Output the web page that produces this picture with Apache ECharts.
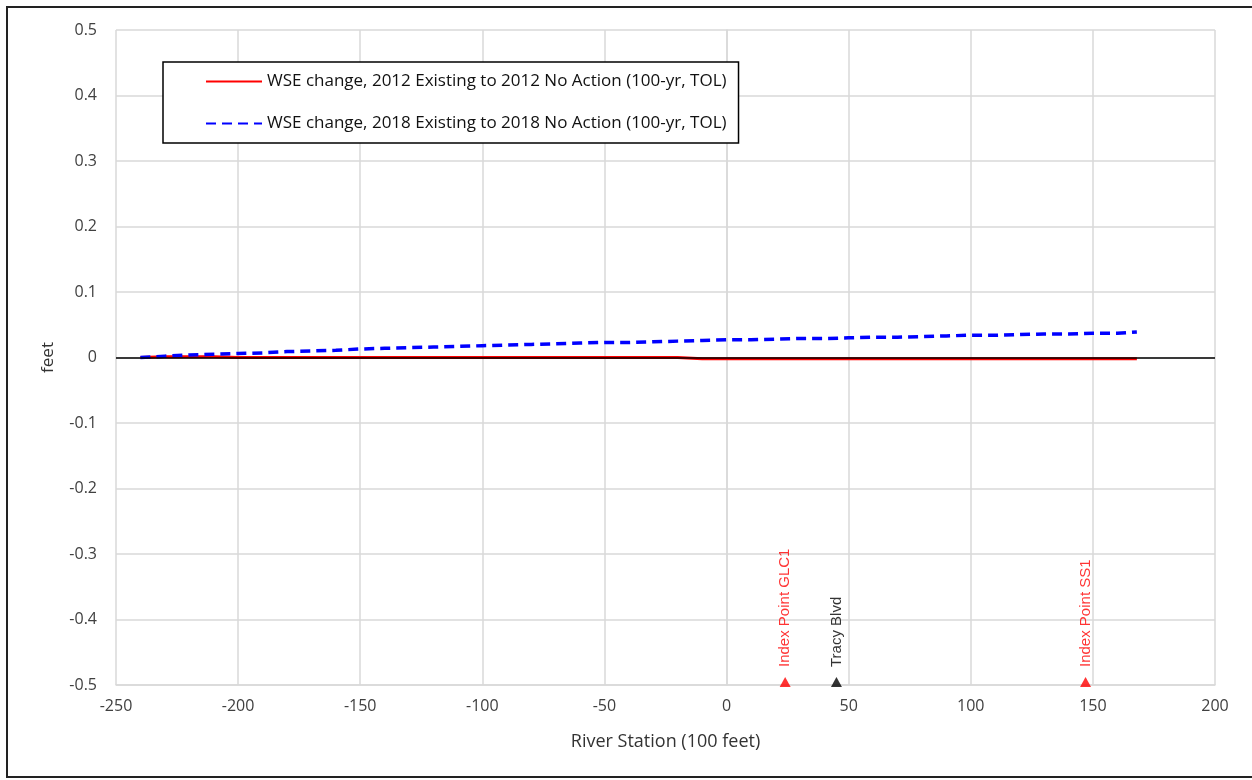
<!DOCTYPE html>
<html>
<head>
<meta charset="utf-8">
<script src="https://cdn.jsdelivr.net/npm/echarts@6/dist/echarts.min.js"></script>
<style>
  html, body { margin: 0; padding: 0; background: #fff; }
  #chart { width: 1252px; height: 780px; }
</style>
</head>
<body>
<div id="chart"></div>
<script>
// river station (100 feet)
var stations = [-240, -230, -220, -210, -200, -190, -180, -170, -160, -150,
  -140, -130, -120, -110, -100, -90, -80, -70, -60, -50,
  -40, -30, -20, -10, 0, 10, 20, 30, 40, 50,
  60, 70, 80, 90, 100, 110, 120, 130, 140, 150,
  160, 168]
// WSE change 2012 (feet)
var wse2012 = [0, 0.001, 0.001, 0.001, 0, 0, 0, 0, 0, 0,
  0, 0, 0, 0, 0, 0, 0, 0, 0, 0,
  0, 0, 0, -0.002, -0.002, -0.002, -0.002, -0.002, -0.002, -0.002,
  -0.002, -0.002, -0.002, -0.002, -0.002, -0.002, -0.002, -0.002, -0.002, -0.002,
  -0.002, -0.002]
// WSE change 2018 (feet)
var wse2018 = [0, 0.002, 0.004, 0.005, 0.006, 0.007, 0.009, 0.010, 0.011, 0.013,
  0.014, 0.015, 0.016, 0.017, 0.018, 0.019, 0.020, 0.021, 0.022, 0.023,
  0.023, 0.024, 0.025, 0.026, 0.027, 0.027, 0.028, 0.029, 0.029, 0.030,
  0.031, 0.031, 0.032, 0.033, 0.034, 0.034, 0.035, 0.036, 0.036, 0.037,
  0.037, 0.039]
// reference locations along the river
var markStations = [24, 45, 147]
var markNames = ['Index Point GLC1', 'Tracy Blvd', 'Index Point SS1']
var markColors = ['#ff0000', '#000000', '#ff0000']

var seriesNames = [
  'WSE change, 2012 Existing to 2012 No Action (100-yr, TOL)',
  'WSE change, 2018 Existing to 2018 No Action (100-yr, TOL)'
]

function pairs (xs, ys) {
  return xs.map(function (x, i) { return [x, ys[i]] })
}

var font = 'Open Sans'
var chart = echarts.init(document.getElementById('chart'))
var option = {
  backgroundColor: '#fff',
  animation: false,
  textStyle: { fontFamily: font },
  graphic: [{
    type: 'rect',
    shape: { x: 7, y: 7, width: 1260, height: 770 },
    style: { fill: 'none', stroke: '#222', lineWidth: 2 },
    silent: true
  }],
  grid: { left: 116, right: 37, top: 30, bottom: 95 },
  legend: {
    left: 163,
    top: 62,
    orient: 'vertical',
    backgroundColor: '#fff',
    borderColor: '#000',
    borderWidth: 1.5,
    borderRadius: 0,
    padding: [11, 12, 11, 42],
    itemGap: 25,
    itemWidth: 56,
    itemHeight: 20,
    itemStyle: { opacity: 0 },
    textStyle: { fontFamily: font, fontSize: 17, color: '#111' },
    data: seriesNames
  },
  xAxis: {
    type: 'value',
    min: -250,
    max: 200,
    interval: 50,
    name: 'River Station (100 feet)',
    nameLocation: 'middle',
    nameGap: 48,
    nameTextStyle: { fontSize: 18, color: '#333' },
    axisLine: { onZero: false, lineStyle: { color: '#d9d9d9', width: 1.5 } },
    axisTick: { show: false },
    axisLabel: { fontSize: 16, color: '#404040', margin: 13 },
    splitLine: { lineStyle: { color: '#d9d9d9', width: 1.5 } }
  },
  yAxis: {
    type: 'value',
    min: -0.5,
    max: 0.5,
    interval: 0.1,
    name: 'feet',
    nameLocation: 'middle',
    nameGap: 59,
    nameTextStyle: { fontSize: 17, color: '#333' },
    axisLine: { show: true, lineStyle: { color: '#d9d9d9', width: 1.5 } },
    axisTick: { show: false },
    axisLabel: {
      fontSize: 16,
      color: '#404040',
      margin: 19,
      formatter: function (v) { return Math.abs(v) < 1e-9 ? '0' : String(+v.toFixed(1)) }
    },
    splitLine: { lineStyle: { color: '#d9d9d9', width: 1.5 } }
  },
  series: [
    {
      name: 'zero',
      type: 'line',
      data: [],
      z: 1,
      markLine: {
        silent: true,
        symbol: 'none',
        label: { show: false },
        lineStyle: { color: '#000', width: 1.5, type: 'solid' },
        data: [{ yAxis: 0 }]
      }
    },
    {
      name: seriesNames[0],
      type: 'line',
      data: pairs(stations, wse2012),
      showSymbol: false,
      symbol: 'none',
      z: 3,
      lineStyle: { color: '#ff0000', width: 3 },
      itemStyle: { color: '#ff0000' }
    },
    {
      name: seriesNames[1],
      type: 'line',
      data: pairs(stations, wse2018),
      showSymbol: false,
      symbol: 'none',
      z: 4,
      lineStyle: { color: '#0000ff', width: 3.5, type: [10, 6] },
      itemStyle: { color: '#0000ff' }
    },
    {
      name: 'locations',
      type: 'scatter',
      clip: false,
      symbol: 'triangle',
      symbolSize: [11, 10],
      symbolOffset: [0, -3],
      z: 5,
      data: markStations.map(function (x, i) {
        return {
          value: [x, -0.5],
          name: markNames[i],
          itemStyle: { color: markColors[i] },
          label: { color: markColors[i] }
        }
      }),
      label: {
        show: true,
        position: 'top',
        distance: 10,
        rotate: 90,
        align: 'left',
        verticalAlign: 'middle',
        fontFamily: 'Liberation Sans',
        fontSize: 15,
        formatter: function (p) { return p.name }
      }
    }
  ]
}
chart.setOption(option)
</script>
</body>
</html>
